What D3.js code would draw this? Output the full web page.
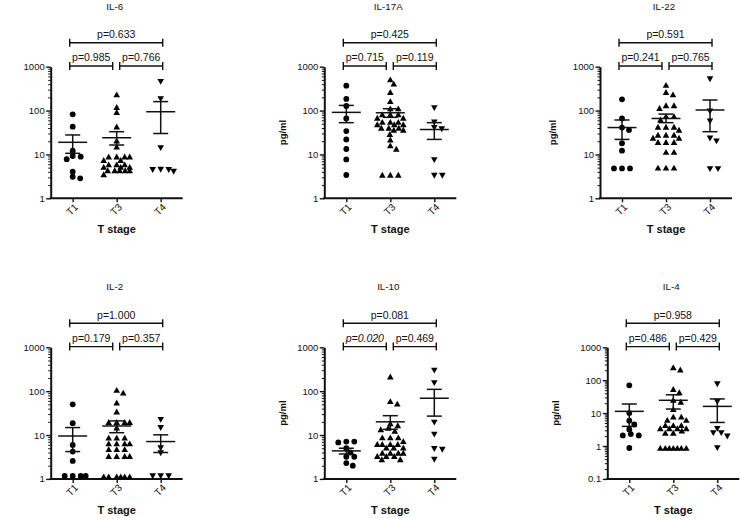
<!DOCTYPE html>
<html><head><meta charset="utf-8">
<script src="https://cdn.jsdelivr.net/npm/d3@7"></script>
<style>
body{margin:0;background:#fff}
svg{display:block}
text{font-family:"Liberation Sans",Arial,Helvetica,sans-serif;fill:#111}
</style>
</head><body>
<svg id="chart" width="740" height="518"></svg>
<script>
// ---------------- DATA ----------------
const groups = ["T1", "T3", "T4"];
const titles = ["IL-6", "IL-17A", "IL-22", "IL-2", "IL-10", "IL-4"];

// individual values (pg/ml) per group [T1, T3, T4]
const IL6 = [
  [82, 43, 12.2, 8.9, 9.2, 7.8, 4.05, 2.86, 3.1],
  [225, 116, 89, 41.5, 20, 14.5, 8.6, 8.6, 8.6, 8.6, 7.2, 7.2, 5.7, 5.7, 5.7, 5.0, 5.0, 5.0, 4.2, 4.2, 4.2, 4.2, 4.2, 3.4],
  [470, 190, 14.5, 4.6, 4.2, 4.6, 4.65]
];
const IL17A = [
  [370, 184, 127, 66, 34, 22, 13.3, 7.7, 3.4],
  [495, 395, 255, 158, 108, 108, 79, 79, 79, 66, 66, 53, 53, 53, 47, 47, 47, 39, 39, 39, 35, 35, 28, 21, 15.5, 13, 3.3, 3.3, 3.3],
  [118, 56, 42, 39, 7.7, 3.4, 3.4]
];
const IL22 = [
  [180, 66, 36, 41, 18, 12.2, 4.8, 4.8, 4.8],
  [370, 255, 225, 127, 127, 110, 72, 72, 60, 41, 41, 41, 35, 27, 27, 27, 23, 23, 18.5, 18.5, 18.5, 11, 11, 4.8, 4.8, 4.8],
  [540, 99, 59, 24, 20.6, 4.8, 4.8]
];
const IL2 = [
  [50, 18.6, 5.95, 4.2, 2.57, 1.17, 1.17, 1.17, 1.17],
  [103, 89, 53, 33, 19, 19, 19, 19, 14.3, 8.4, 8.4, 8.4, 6.2, 6.2, 6.2, 6.2, 4.6, 4.6, 4.6, 3.2, 3.2, 3.2, 3.2, 1.1, 1.1, 1.1, 1.1, 1.1, 1.1],
  [23, 15, 5.2, 4, 1.2, 1.2, 1.2]
];
const IL10 = [
  [7.1, 6.8, 7.1, 5.0, 4.0, 3.2, 3.2, 2.3, 2.0],
  [207, 57, 50, 17.9, 16.1, 14, 13, 12, 8.5, 8.5, 8.5, 7, 6, 6, 6, 6, 5, 5, 5, 3.8, 3.8, 3.8, 3.8, 3.2, 3.2, 3.2, 2.7, 2.7],
  [305, 159, 20, 10.6, 5.0, 4.8, 2.85]
];
const IL4 = [
  [70, 10, 5.9, 4.5, 3.2, 2.3, 2.1, 2.1, 0.87],
  [235, 200, 51, 41, 24, 21, 12.7, 7.4, 7.4, 5.9, 5.9, 4.1, 4.1, 4.1, 3.3, 3.3, 3.3, 3.3, 2.8, 2.4, 2.4, 0.83, 0.83, 0.83, 0.83, 0.83, 0.83, 0.83],
  [79, 23, 3.5, 2.6, 2.05, 2.6, 0.91]
];

// mean, lower SEM, upper SEM per group
const IL6_bars   = [[18.9, 10.6, 27.8], [24, 16.4, 33], [94, 30, 160]];
const IL17A_bars = [[91, 53, 131], [89, 70, 110], [37, 22, 53]];
const IL22_bars  = [[41, 22, 61], [66, 53, 83], [103, 33, 174]];
const IL2_bars   = [[9.5, 4.2, 14.8], [16.1, 11.3, 21], [7.1, 4, 10.1]];
const IL10_bars  = [[4.35, 3.7, 5.0], [20, 13.5, 27.6], [69, 27, 110]];
const IL4_bars   = [[11.3, 3.95, 18.9], [24.5, 13.3, 36], [16, 5.2, 27]];

// p values: T1 vs T4 (top), T1 vs T3 (left), T3 vs T4 (right)
const pTop   = ["0.633", "0.425", "0.591", "1.000", "0.081", "0.958"];
const pLeft  = ["0.985", "0.715", "0.241", "0.179", "0.020", "0.486"];
const pRight = ["0.766", "0.119", "0.765", "0.357", "0.469", "0.429"];
const pLeftItalic = [false, false, false, false, true, false];

const yTicksStd = [1, 10, 100, 1000];
const yTicksIL4 = [0.1, 1, 10, 100, 1000];

const seriesData = [IL6, IL17A, IL22, IL2, IL10, IL4];
const seriesBars = [IL6_bars, IL17A_bars, IL22_bars, IL2_bars, IL10_bars, IL4_bars];
const seriesTicks = [yTicksStd, yTicksStd, yTicksStd, yTicksStd, yTicksStd, yTicksIL4];

// ---------------- LAYOUT ----------------
const svg = d3.select("#chart");
const axisX0 = [50.7, 324.3, 600, 50.7, 324.3, 607.3];
const topY = [66.7, 66.7, 66.7, 347.3, 347.3, 347.3];
const plotH = 131.6, plotW = 132;
const ylabOffset = [null, 42, 47, null, 42, 52];

function minorTicks(ticks) {
  const out = [];
  for (let i = 0; i < ticks.length - 1; i++) {
    for (let k = 2; k <= 9; k++) out.push(ticks[i] * k);
  }
  return out;
}

function swarm(vals, y, cx, rx, ry, maxOff) {
  const pts = vals.map(v => ({ v, y: y(v) })).sort((a, b) => a.y - b.y);
  const placed = [];
  for (const p of pts) {
    let chosen = null, best = null, bestScore = -1;
    for (let k = 0; k <= maxOff * 4; k++) {
      const off = (k % 2 ? 1 : -1) * Math.ceil(k / 2) * 0.5;
      if (Math.abs(off) > maxOff) continue;
      let minD = Infinity;
      for (const q of placed) {
        const d = Math.sqrt(((off - q.off) / rx) ** 2 + ((p.y - q.y) / ry) ** 2);
        if (d < minD) minD = d;
      }
      if (minD >= 1) { chosen = off; break; }
      if (minD > bestScore) { bestScore = minD; best = off; }
    }
    p.off = chosen !== null ? chosen : best;
    p.x = cx + p.off;
    placed.push(p);
  }
  return pts;
}

const triUp = "M0,-3.7L3.3,2.2L-3.3,2.2Z";
const triDown = "M0,3.7L3.3,-2.2L-3.3,-2.2Z";

titles.forEach((title, i) => {
  const x0 = axisX0[i], y0 = topY[i], yb = y0 + plotH;
  const ticks = seriesTicks[i];
  const g = svg.append("g");

  const x = d3.scalePoint().domain(groups).range([x0, x0 + plotW]).padding(0.5);
  const y = d3.scaleLog().domain([ticks[0], ticks[ticks.length - 1]]).range([yb, y0]);

  // minor ticks
  const minorAxis = d3.axisLeft(y).tickValues(minorTicks(ticks)).tickSize(2.5).tickFormat("");
  const gm = g.append("g").attr("transform", `translate(${x0},0)`).call(minorAxis);
  gm.select(".domain").remove();
  gm.selectAll("line").attr("stroke", "#111").attr("stroke-width", 1);

  // major ticks
  const majorAxis = d3.axisLeft(y).tickValues(ticks).tickSize(4.5).tickSizeOuter(0).tickPadding(1.5)
    .tickFormat(d3.format("~g"));
  const ga = g.append("g").attr("transform", `translate(${x0},0)`).call(majorAxis);
  ga.select(".domain").attr("stroke", "#111").attr("stroke-width", 2);
  ga.selectAll("line").attr("stroke", "#111").attr("stroke-width", 1.4);
  ga.selectAll("text").attr("font-size", "9.5px").attr("font-family", "Liberation Sans, Arial, sans-serif").attr("fill", "#222");

  // x axis
  const xAxis = d3.axisBottom(x).tickSize(4).tickSizeOuter(0).tickFormat("");
  const gx = g.append("g").attr("transform", `translate(0,${yb})`).call(xAxis);
  gx.select(".domain").attr("stroke", "#111").attr("stroke-width", 2)
    .attr("d", `M${x0 - 1},0H${x0 + plotW}`);
  gx.selectAll("line").attr("stroke", "#111").attr("stroke-width", 1.4);
  groups.forEach(gr => {
    g.append("text")
      .attr("transform", `translate(${x(gr) + 3.5},${yb + 7}) rotate(-45)`)
      .attr("text-anchor", "end").attr("dy", "0.35em")
      .attr("font-size", "10px").attr("fill", "#222").text(gr);
  });

  // axis titles
  g.append("text").attr("x", x0 + plotW / 2).attr("y", yb + 35)
    .attr("text-anchor", "middle").attr("font-size", "11px").attr("font-weight", "bold").text("T stage");
  if (ylabOffset[i] !== null) {
    g.append("text").attr("transform", `translate(${x0 - ylabOffset[i]},${(y0 + yb) / 2}) rotate(-90)`)
      .attr("text-anchor", "middle").attr("dy", "0.35em")
      .attr("font-size", "9.5px").attr("font-weight", "bold").text("pg/ml");
  }

  // chart title
  g.append("text").attr("x", x0 + plotW / 2 - 2).attr("y", y0 - 57)
    .attr("text-anchor", "middle").attr("font-size", "9.8px").attr("fill", "#222").text(title);

  // brackets
  function bracket(xa, xb, yy, label, italic) {
    g.append("path").attr("d", `M${xa},${yy - 4}V${yy + 4}M${xa},${yy}H${xb}M${xb},${yy - 4}V${yy + 4}`)
      .attr("stroke", "#111").attr("stroke-width", 1.4).attr("fill", "none");
    g.append("text").attr("x", (xa + xb) / 2).attr("y", yy - 4.6)
      .attr("text-anchor", "middle").attr("font-size", "10.5px").attr("fill", "#222")
      .attr("font-style", italic ? "italic" : "normal").text("p=" + label);
  }
  bracket(x("T1") - 3, x("T4") + 2, y0 - 24, pTop[i], false);
  bracket(x("T1") - 3, x("T3") - 4, y0 - 0.7, pLeft[i], pLeftItalic[i]);
  bracket(x("T3") + 3, x("T4") + 2, y0 - 0.7, pRight[i], false);

  // points
  seriesData[i].forEach((vals, gi) => {
    const cx = x(groups[gi]);
    const pts = swarm(vals, y, cx, 7.8, 4.8, 13);
    if (gi === 0) {
      g.selectAll(null).data(pts).enter().append("circle")
        .attr("cx", d => d.x).attr("cy", d => d.y).attr("r", 2.9).attr("fill", "#000");
    } else {
      g.selectAll(null).data(pts).enter().append("path")
        .attr("transform", d => `translate(${d.x},${d.y})`)
        .attr("d", gi === 1 ? triUp : triDown).attr("fill", "#000");
    }
    // mean +/- SEM
    const [m, lo, hi] = seriesBars[i][gi];
    const eb = g.append("g").attr("stroke", "#111").attr("stroke-width", 1.5).attr("fill", "none");
    eb.append("line").attr("x1", cx - 14.5).attr("x2", cx + 14.5).attr("y1", y(m)).attr("y2", y(m));
    eb.append("line").attr("x1", cx).attr("x2", cx).attr("y1", y(lo)).attr("y2", y(hi));
    eb.append("line").attr("x1", cx - 7.5).attr("x2", cx + 7.5).attr("y1", y(lo)).attr("y2", y(lo));
    eb.append("line").attr("x1", cx - 7.5).attr("x2", cx + 7.5).attr("y1", y(hi)).attr("y2", y(hi));
  });
});
</script>
</body></html>
